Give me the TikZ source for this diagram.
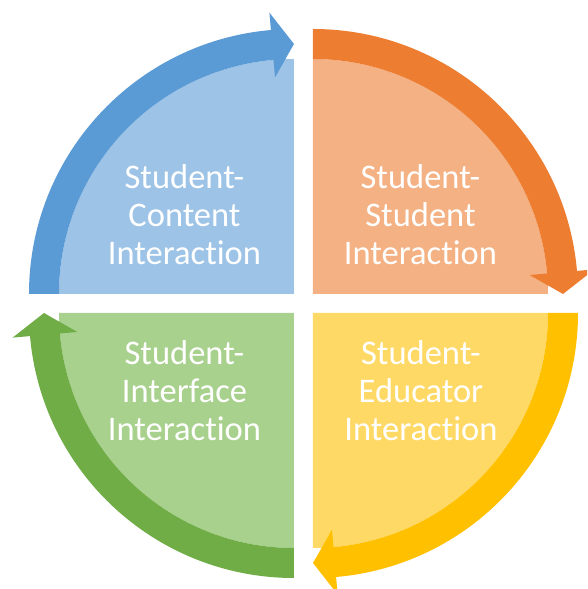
\documentclass[tikz,border=0pt]{standalone}
\usepackage{fontspec}
\setmainfont{Carlito}[Ligatures=NoCommon]

\definecolor{blueD}{HTML}{5B9BD5}
\definecolor{blueL}{HTML}{9DC3E6}
\definecolor{orangeD}{HTML}{ED7D31}
\definecolor{orangeL}{HTML}{F4B183}
\definecolor{yellowD}{HTML}{FFC000}
\definecolor{yellowL}{HTML}{FFD966}
\definecolor{greenD}{HTML}{70AD47}
\definecolor{greenL}{HTML}{A9D18E}

\begin{document}
\begin{tikzpicture}[x=1pt, y=1pt,
    quadtext/.style={text=white, align=center, font=\fontsize{34.5}{38}\selectfont}]
    \useasboundingbox (-303.5, -285.5) rectangle (283.5, 303.5);
    \clip (-303.5, -285.5) rectangle (283.5, 303.5);

    \foreach \i/\dark/\light in {0/blueD/blueL, -90/orangeD/orangeL, 180/yellowD/yellowL, 90/greenD/greenL} {
      \begin{scope}[rotate=\i, shift={(-9.5, 9.5)}]
        \fill[\light] (0, 0) -- (90:235) arc[start angle=90, end angle=180, radius=235] -- cycle;
        \fill[\dark] (180:265) arc[start angle=180, end angle=95, radius=265]
          -- (95:282.5) -- (90:250) -- (95:217.5) -- (95:235)
          arc[start angle=95, end angle=180, radius=235] -- cycle;
      \end{scope}
    }

    \node[quadtext] (content) at (-119, 88.5) {Student-\\Content\\Interaction};
    \node[quadtext] (peer) at (117, 88.5) {Student-\\Student\\Interaction};
    \node[quadtext] (interface) at (-119, -87.5) {Student-\\Interface\\Interaction};
    \node[quadtext] (educator) at (117.5, -87.5) {Student-\\Educator\\Interaction};
  \end{tikzpicture}
\end{document}
